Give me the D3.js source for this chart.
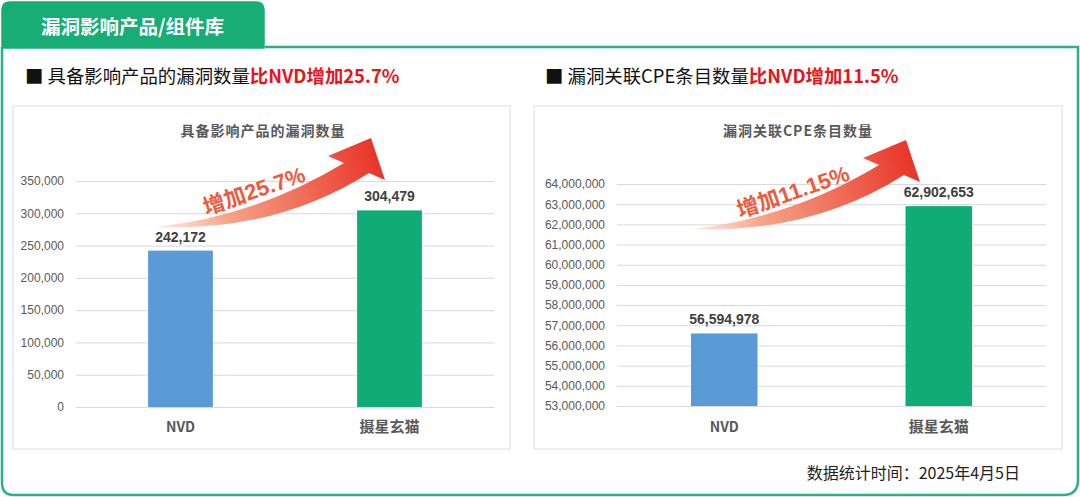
<!DOCTYPE html>
<html><head><meta charset="utf-8">
<script src="https://cdn.jsdelivr.net/npm/d3@7/dist/d3.min.js"></script>
<style>
html,body{margin:0;padding:0;background:#fff;}
svg{display:block;}
</style></head>
<body>
<svg id="chart" width="1080" height="497"></svg>
<script>
// ---- data ----
const categories = ["NVD", "摄星玄猫"];
const productVulnCounts = [242172, 304479];
const cpeEntryCounts = [56594978, 62902653];
const productTicks = [0, 50000, 100000, 150000, 200000, 250000, 300000, 350000];
const cpeTicks = [53000000, 54000000, 55000000, 56000000, 57000000, 58000000, 59000000, 60000000, 61000000, 62000000, 63000000, 64000000];
const barColors = ["#5b9bd5", "#10ac76"];
const tabTitle = "漏洞影响产品/组件库";
const headingsBlack = ["具备影响产品的漏洞数量", "漏洞关联CPE条目数量"];
const headingsRed = ["比NVD增加25.7%", "比NVD增加11.5%"];
const chartTitles = ["具备影响产品的漏洞数量", "漏洞关联CPE条目数量"];
const growthLabels = ["增加25.7%", "增加11.15%"];
const footerText = "数据统计时间：2025年4月5日";

const svg = d3.select("#chart");
const CJK = "'Noto Sans CJK SC','Noto Sans',sans-serif";
const LAT = "'Liberation Sans','Noto Sans CJK SC',sans-serif";
const green = "#26b582";

const defs = svg.append("defs");

// outer frame
svg.append("path")
  .attr("d", "M265,47 L1078,47 L1078,480 Q1078,495 1063,495 L14,495 Q2,495 2,483 L2,47")
  .attr("fill", "none").attr("stroke", green).attr("stroke-width", 2.5);
svg.append("path")
  .attr("d", "M2,48 L2,10 Q2,2 10,2 L256,2 Q264,2 264,10 L264,48 Z")
  .attr("fill", "#17ad74").attr("stroke", "#17ad74").attr("stroke-width", 1.5);
svg.append("text").attr("x", 41).attr("y", 33.5)
  .attr("font-family", CJK).attr("font-weight", 700).attr("font-size", 19.5)
  .attr("fill", "#fff").text(tabTitle);

// footer
svg.append("text").attr("x", 1020).attr("y", 479).attr("text-anchor", "end")
  .attr("font-family", CJK).attr("font-size", 16).attr("fill", "#222").text(footerText);

const panels = [
  { values: productVulnCounts, ticks: productTicks, domain: [0, 350000],
    box: [13, 106, 510, 449], plotX: [76, 494], plotY: [407, 181],
    headX: 25, titleX: 263, tail: [156, 227] },
  { values: cpeEntryCounts, ticks: cpeTicks, domain: [53000000, 64000000],
    box: [534, 106, 1062, 449], plotX: [617, 1046], plotY: [406, 184],
    headX: 545, titleX: 798, tail: [691, 229] }
];

panels.forEach((p, i) => {
  const g = svg.append("g");
  // heading
  const h = g.append("text").attr("x", p.headX).attr("y", 83)
    .attr("font-family", CJK).attr("font-size", 18.4);
  h.append("tspan").attr("fill", "#111").text("■ " + headingsBlack[i]);
  h.append("tspan").attr("fill", "#e8141c").attr("font-weight", 700).text(headingsRed[i]);

  // box
  g.append("rect").attr("x", p.box[0]).attr("y", p.box[1])
    .attr("width", p.box[2] - p.box[0]).attr("height", p.box[3] - p.box[1])
    .attr("fill", "#fff").attr("stroke", "#e3e3e3").attr("stroke-width", 1.2);

  // chart title
  g.append("text").attr("x", p.titleX).attr("y", 136).attr("text-anchor", "middle")
    .attr("font-family", CJK).attr("font-weight", 700).attr("font-size", 14)
    .attr("letter-spacing", 1).attr("fill", "#595959").text(chartTitles[i]);

  const x = d3.scaleBand().domain(categories).range(p.plotX).paddingInner(0.69).paddingOuter(0.345);
  const y = d3.scaleLinear().domain(p.domain).range(p.plotY);

  // y axis + gridlines
  const ax = g.append("g").attr("transform", `translate(${p.plotX[0]},0)`)
    .call(d3.axisLeft(y).tickValues(p.ticks).tickSize(-(p.plotX[1] - p.plotX[0]))
      .tickPadding(12).tickFormat(d3.format(",")));
  ax.select(".domain").remove();
  ax.selectAll(".tick line").attr("stroke", "#d9d9d9").attr("stroke-width", 1);
  ax.selectAll(".tick text").attr("font-family", LAT).attr("font-size", 12).attr("fill", "#595959");

  // bars
  g.selectAll(".bar").data(p.values).enter().append("rect")
    .attr("x", (d, j) => x(categories[j]))
    .attr("y", d => y(d))
    .attr("width", x.bandwidth())
    .attr("height", d => y(p.domain[0]) - y(d))
    .attr("fill", (d, j) => barColors[j]);

  // value labels
  g.selectAll(".val").data(p.values).enter().append("text")
    .attr("x", (d, j) => x(categories[j]) + x.bandwidth() / 2)
    .attr("y", d => y(d) - 9)
    .attr("text-anchor", "middle")
    .attr("font-family", LAT).attr("font-weight", 700).attr("font-size", 14)
    .attr("fill", "#404040").text(d => d3.format(",")(d));

  // category labels
  g.selectAll(".cat").data(categories).enter().append("text")
    .attr("x", d => x(d) + x.bandwidth() / 2)
    .attr("y", 432).attr("text-anchor", "middle")
    .attr("font-family", CJK).attr("font-weight", 700)
    .attr("font-size", (d, j) => j === 0 ? 14 : 15)
    .attr("fill", "#595959").text(d => d);

  // growth arrow
  const gid = "arrowGrad" + i;
  const grad = defs.append("linearGradient").attr("id", gid)
    .attr("gradientUnits", "userSpaceOnUse")
    .attr("x1", 0).attr("y1", 0).attr("x2", 220).attr("y2", -70);
  grad.append("stop").attr("offset", 0).attr("stop-color", "#fbd3c4").attr("stop-opacity", 0.5);
  grad.append("stop").attr("offset", 0.3).attr("stop-color", "#f7a487");
  grad.append("stop").attr("offset", 1).attr("stop-color", "#e9362a");
  const ag = g.append("g").attr("transform", `translate(${p.tail[0]},${p.tail[1]})`);
  ag.append("path")
    .attr("d", "M0,0 Q100,-11 188,-64 L172,-71 L215,-89 L229,-47 L213,-54 Q120,5 0,0 Z")
    .attr("fill", `url(#${gid})`);
  ag.append("text")
    .attr("transform", `translate(${i === 0 ? 98 : 102},${i === 0 ? -36 : -37}) rotate(-19)`)
    .attr("text-anchor", "middle").attr("dominant-baseline", "central")
    .attr("font-family", LAT).attr("font-weight", 700).attr("font-size", 22)
    .attr("fill", "#ef5a3c").attr("stroke", "#fff").attr("stroke-width", 0.6)
    .attr("paint-order", "stroke")
    .text(growthLabels[i]);
});
</script>
</body></html>
